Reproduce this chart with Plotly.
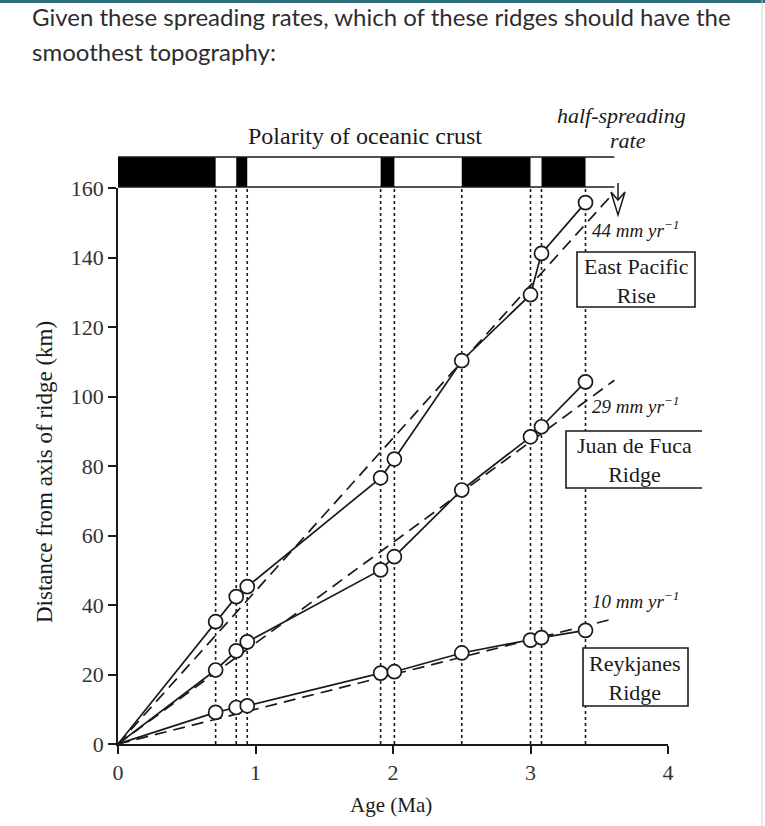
import plotly.graph_objects as go

# ---------------- data ----------------
ages = [0.71, 0.86, 0.94, 1.91, 2.01, 2.50, 3.00, 3.08, 3.40]          # Ma (reversal boundaries)
epr_km = [35.2, 42.4, 45.3, 76.6, 82.0, 110.3, 129.3, 141.2, 155.8]   # East Pacific Rise
jdf_km = [21.3, 26.8, 29.4, 50.1, 53.9, 73.1, 88.4, 91.3, 104.2]      # Juan de Fuca Ridge
rey_km = [9.1, 10.5, 11.0, 20.4, 20.8, 26.2, 29.9, 30.6, 32.7]        # Reykjanes Ridge
rates = [44, 29, 10]                 # half-spreading rate, mm/yr (= km/Ma)
rate_end_age = [3.57, 3.61, 3.60]
rate_labels = ["44 mm yr<sup>−1</sup>", "29 mm yr<sup>−1</sup>", "10 mm yr<sup>−1</sup>"]
ridge_names = ["East Pacific<br>Rise", "Juan de Fuca<br>Ridge", "Reykjanes<br>Ridge"]
black_intervals = [(-0.01, 0.71), (0.86, 0.94), (1.91, 2.01), (2.50, 3.00), (3.08, 3.40)]
bar_start, bar_end = -0.01, 3.61
x_ticks = [0, 1, 2, 3, 4]
y_ticks = [0, 20, 40, 60, 80, 100, 120, 140, 160]

# ---------------- layout helpers (pixel -> paper) ----------------
W, H = 765, 826
L, R, T, B = 118, 668, 188, 744


def X(px):
    return (px - L) / (R - L)


def Y(py):
    return (B - py) / (B - T)


INK = "#1a1a1a"
SERIF = "Liberation Serif"

fig = go.Figure()

series = [epr_km, jdf_km, rey_km]
# dashed best-fit lines
for r, xe in zip(rates, rate_end_age):
    fig.add_trace(go.Scatter(x=[0, xe], y=[0, r * xe], mode="lines",
                             line=dict(color=INK, width=1.7, dash="12px,7px"),
                             showlegend=False, hoverinfo="skip", cliponaxis=False))
# solid data lines
for km in series:
    fig.add_trace(go.Scatter(x=[0] + ages, y=[0] + km, mode="lines",
                             line=dict(color=INK, width=1.7),
                             showlegend=False, cliponaxis=False))
# circles
for km in series:
    fig.add_trace(go.Scatter(x=ages, y=km, mode="markers",
                             marker=dict(size=14, color="white",
                                         line=dict(color=INK, width=1.7)),
                             showlegend=False, cliponaxis=False))

shapes = []
bar_top, bar_bot = Y(157), Y(187)
# dotted vertical lines at reversal boundaries
for a in ages:
    shapes.append(dict(type="line", xref="x", yref="paper", x0=a, x1=a, y0=0, y1=bar_bot,
                       line=dict(color=INK, width=1.6, dash="3px,3px"), layer="below"))
# polarity bar
for a0, a1 in black_intervals:
    shapes.append(dict(type="rect", xref="x", yref="paper", x0=a0, x1=a1, y0=bar_bot, y1=bar_top,
                       fillcolor="black", line=dict(width=0)))
for yy in (bar_top, bar_bot):
    shapes.append(dict(type="line", xref="x", yref="paper", x0=bar_start, x1=bar_end, y0=yy, y1=yy,
                       line=dict(color=INK, width=1.6)))

# ridge name boxes (pixel boxes)
boxes = [(577, 252, 695, 307, True), (566, 431, 702, 488, False), (583, 648, 688, 706, True)]
for (x0, y0, x1, y1, closed) in boxes:
    shapes.append(dict(type="rect", xref="paper", yref="paper", x0=X(x0), x1=X(x1), y0=Y(y1), y1=Y(y0),
                       fillcolor="white", line=dict(width=0)))
    if closed:
        shapes.append(dict(type="rect", xref="paper", yref="paper", x0=X(x0), x1=X(x1), y0=Y(y1), y1=Y(y0),
                           line=dict(color=INK, width=1.6)))
    else:
        path = f"M {X(x1)},{Y(y0)} L {X(x0)},{Y(y0)} L {X(x0)},{Y(y1)} L {X(x1)},{Y(y1)}"
        shapes.append(dict(type="path", xref="paper", yref="paper", path=path,
                           line=dict(color=INK, width=1.6)))

# arrow under "half-spreading rate"
ax = 618
shapes.append(dict(type="line", xref="paper", yref="paper", x0=X(ax), x1=X(ax), y0=Y(183), y1=Y(200),
                   line=dict(color=INK, width=1.5)))
head = (f"M {X(ax-7)},{Y(192)} L {X(ax)},{Y(215)} L {X(ax+7)},{Y(192)} L {X(ax)},{Y(200)} Z")
shapes.append(dict(type="path", xref="paper", yref="paper", path=head, fillcolor="white",
                   line=dict(color=INK, width=1.5)))

# page decoration: top rule and right edge
shapes.append(dict(type="rect", xref="paper", yref="paper", x0=X(0), x1=X(W), y0=Y(3), y1=Y(0),
                   fillcolor="#2b6f7e", line=dict(width=0)))
shapes.append(dict(type="line", xref="paper", yref="paper", x0=X(762), x1=X(762), y0=Y(826), y1=Y(0),
                   line=dict(color="#d0d0d0", width=1)))

ann = []


def text(px, py, s, size=20, xanchor="center", italic=False, family=SERIF, color=INK, angle=0):
    ann.append(dict(x=X(px), y=Y(py), xref="paper", yref="paper", text=(f"<i>{s}</i>" if italic else s),
                    showarrow=False, xanchor=xanchor, yanchor="middle", textangle=angle,
                    font=dict(family=family, size=size, color=color)))


text(365, 136, "Polarity of oceanic crust", size=24)
text(621, 116, "half-spreading", size=22, italic=True)
text(628, 140, "rate", size=22, italic=True)
for lab, py in zip(rate_labels, [229, 405, 600]):
    text(590, py, lab, size=19, italic=True, xanchor="left")
centers = [(636, 281), (634, 460), (635, 678)]
for name, (cx, cy) in zip(ridge_names, centers):
    ann.append(dict(x=X(cx), y=Y(cy), xref="paper", yref="paper", text=name, showarrow=False,
                    xanchor="center", yanchor="middle", align="center",
                    font=dict(family=SERIF, size=22, color=INK)))
text(391, 805, "Age (Ma)", size=21)
text(45, 472, "Distance from axis of ridge (km)", size=23, angle=-90)

# question text
ann.append(dict(x=X(30), y=Y(17), xref="paper", yref="paper", xanchor="left", yanchor="middle",
                showarrow=False, text="Given these spreading rates, which of these ridges should have the",
                font=dict(family="Lato", size=24, color="#2d2d2d")))
ann.append(dict(x=X(30), y=Y(52), xref="paper", yref="paper", xanchor="left", yanchor="middle",
                showarrow=False, text="smoothest topography:",
                font=dict(family="Lato", size=24, color="#2d2d2d")))

axis_common = dict(showline=True, linecolor=INK, linewidth=1.7, ticks="outside", ticklen=8,
                   tickwidth=1.7, tickcolor=INK, showgrid=False, zeroline=False,
                   tickfont=dict(family=SERIF, size=22, color="#333"))

fig.update_layout(
    width=W, height=H, autosize=False,
    margin=dict(l=L, r=W - R, t=T, b=H - B, pad=0),
    paper_bgcolor="white", plot_bgcolor="white",
    xaxis=dict(range=[0, 4], tickvals=x_ticks, **axis_common),
    yaxis=dict(range=[0, 160], tickvals=y_ticks, **axis_common),
    shapes=shapes, annotations=ann, showlegend=False, hovermode=False,
)

fig.write_html("out.html", config={"displayModeBar": False},
               post_script="document.body.style.margin='0';")
